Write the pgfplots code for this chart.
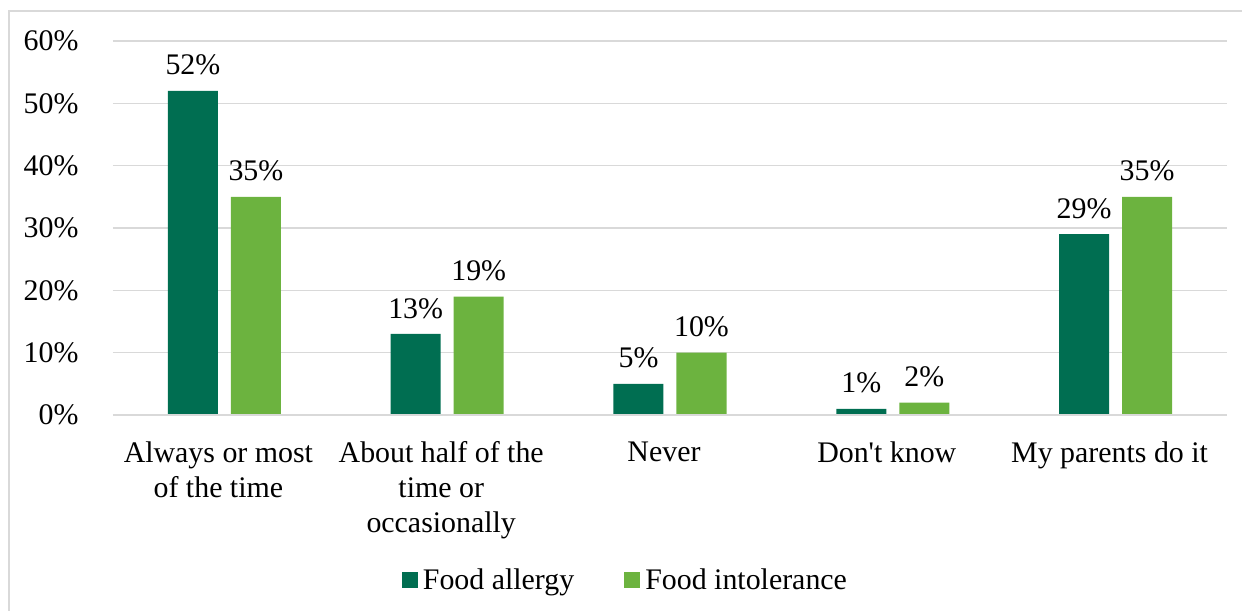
\documentclass[border=0pt]{standalone}
\usepackage{pgfplots}
\pgfplotsset{compat=1.18}
\usepackage{fontspec}
\setmainfont{Liberation Serif}
\definecolor{dgreen}{RGB}{0,110,81}
\definecolor{lgreen}{RGB}{108,179,63}
\definecolor{gridgray}{RGB}{217,217,217}
\begin{document}
\begin{tikzpicture}[font=\fontsize{30}{35}\selectfont]
\useasboundingbox (-113bp,-196bp) rectangle (1129bp,415bp);
\draw[gridgray, line width=2bp] (-104bp,-220bp) -- (-104bp,404bp) -- (1140bp,404bp);
\begin{axis}[
  at={(0,0)}, anchor=south west,
  scale only axis,
  width=1114bp, height=374bp,
  ybar=13bp, bar width=50bp,
  xmin=-0.5, xmax=4.5,
  ymin=0, ymax=60,
  ytick={0,10,...,60},
  yticklabel={\pgfmathprintnumber{\tick}\%},
  /pgf/number format/assume math mode=true,
  yticklabel style={xshift=-31bp},
  xtick={0,1,2,3,4},
  xticklabels={{Always or most\\of the time}, {About half of the\\time or\\occasionally}, Never, Don\textquotesingle t know, My parents do it},
  xticklabel style={align=center, yshift=-23bp, xshift=-6bp},
  major tick length=0pt,
  axis line style={draw=none},
  axis x line*=bottom,
  ymajorgrids,
  grid style={gridgray, line width=1.5bp},
  nodes near coords={\pgfmathprintnumber{\pgfplotspointmeta}\%},
  nodes near coords style={black, yshift=12bp, /pgf/number format/assume math mode=true},
  legend style={draw=none, at={(0.46,-0.44)}, anchor=center, legend columns=2,
    /tikz/every odd column/.append style={column sep=3bp},
    /tikz/every even column/.append style={column sep=48bp}},
  legend image code/.code={\fill[#1] (0bp,-8bp) rectangle (16bp,8bp);},
  clip=false,
]
\addplot[fill=dgreen, draw=none] coordinates {(0,52) (1,13) (2,5) (3,1) (4,29)};
\addplot[fill=lgreen, draw=none] coordinates {(0,35) (1,19) (2,10) (3,2) (4,35)};
\legend{Food allergy, Food intolerance}
\draw[gridgray, line width=1.5bp] (axis cs:-0.5,0) -- (axis cs:4.5,0);
\end{axis}
\end{tikzpicture}
\end{document}
